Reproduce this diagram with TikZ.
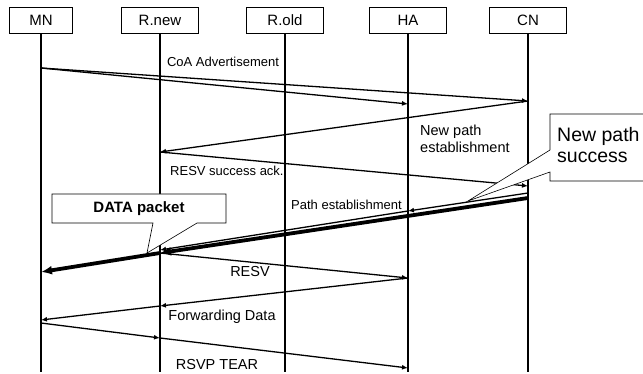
\documentclass[tikz,border=0pt]{standalone}
\usepackage{fontspec}
\setmainfont{Liberation Sans}
\usetikzlibrary{arrows.meta}

\begin{document}
\begin{tikzpicture}[
    x=1pt, y=-1pt,
    font=\fontsize{13}{15}\selectfont,
    box/.style={
        draw,
        line width=0.6pt,
        minimum width=77pt,
        minimum height=26pt,
        inner sep=0pt,
        font=\fontsize{15}{17}\selectfont
    },
    lifeline/.style={line width=1.8pt},
    msg/.style={-{Latex[length=6pt,width=5pt]}, line width=1.3pt},
    datamsg/.style={-{Latex[length=11pt,width=9pt]}, line width=3.8pt},
    msgtext/.style={inner sep=0pt},
    bigtext/.style={inner sep=0pt, font=\fontsize{14.5}{17}\selectfont},
    callout/.style={draw, fill=white, line width=0.6pt}
]
\useasboundingbox (0,0) rectangle (643,374);

% entities
\node[box, minimum width=63pt] (mn) at (41,20) {MN};
\node[box] (rn) at (160,20) {R.new};
\node[box] (ro) at (285,20) {R.old};
\node[box] (ha) at (408,20) {HA};
\node[box] (cn) at (528,20) {CN};

\coordinate (bottom) at (0,372);
\foreach \n in {mn, rn, ro, ha, cn}
    \draw[lifeline] (\n.south) -- (\n.south |- bottom);

% points on the lifelines
\coordinate (mn-a) at (41,68);
\coordinate (ha-a) at (408,104);
\coordinate (cn-a) at (528,101);
\coordinate (rn-b) at (160,152);
\coordinate (cn-c) at (528,186);
\coordinate (cn-d) at (528,193);
\coordinate (ha-d) at (408,211);
\coordinate (rn-d) at (160,250);
\coordinate (cn-e) at (528,198);
\coordinate (rn-e) at (160,253);
\coordinate (mn-e) at (41,272);
\coordinate (ha-f) at (408,278);
\coordinate (rn-g) at (160,306);
\coordinate (mn-g) at (41,320);
\coordinate (mn-h) at (41,323);
\coordinate (rn-h) at (160,338);
\coordinate (ha-h) at (408,368);

% messages
\draw[msg] (mn-a) -- (ha-a);
\draw[msg] (mn-a) -- (cn-a);
\draw[msg] (cn-a) -- (rn-b);
\draw[msg] (rn-b) -- (cn-c);
\draw[msg] (cn-d) -- (ha-d);
\draw[msg] (ha-d) -- (rn-d);
\draw[datamsg] (cn-e) -- (rn-e);
\draw[datamsg] (rn-e) -- (mn-e);
\draw[msg] (rn-e) -- (ha-f);
\draw[msg] (ha-f) -- (rn-g);
\draw[msg] (rn-g) -- (mn-g);
\draw[msg] (mn-h) -- (rn-h);
\draw[msg] (rn-h) -- (ha-h);

% labels
\node[msgtext] (coa) at (223,62) {CoA Advertisement};
\node[bigtext, anchor=west, align=left] (newpath) at (420,139) {New path\\establishment};
\node[msgtext, anchor=west] (resvack) at (170,171) {RESV success ack.};
\node[msgtext, anchor=west] (pathest) at (291,205) {Path establishment};
\node[bigtext] (resv) at (250,272) {RESV};
\node[bigtext] (fwd) at (222,317) {Forwarding Data};
\node[bigtext] (tear) at (217,365) {RSVP TEAR};

% callouts
\coordinate (datatip) at (147,253);
\filldraw[callout] (52,194) -- (226,194) -- (226,223) -- (197,223)
    -- (datatip) -- (153,223) -- (52,223) -- cycle;
\node[inner sep=0pt, font=\bfseries\fontsize{15}{17}\selectfont] (data) at (139,208.5) {DATA packet};

\coordinate (succtip) at (468,201);
\filldraw[callout] (660,114) -- (550,114) -- (550,150) -- (succtip)
    -- (550,172) -- (550,181) -- (660,181);
\node[inner sep=0pt, anchor=west, align=left, font=\fontsize{19.5}{20.5}\selectfont] (succ) at (557,145) {New path\\success};

\end{tikzpicture}
\end{document}
